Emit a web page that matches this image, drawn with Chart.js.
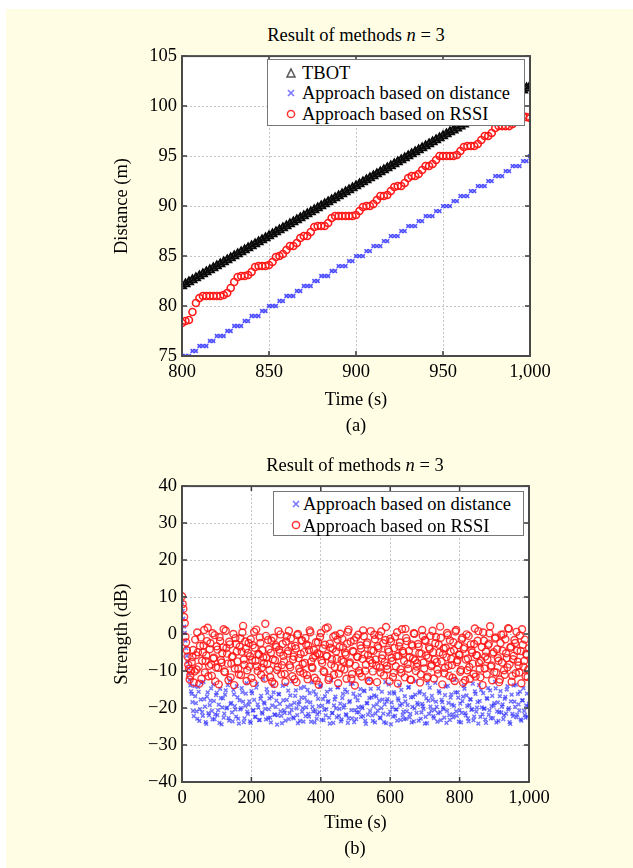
<!DOCTYPE html>
<html>
<head>
<meta charset="utf-8">
<script src="https://cdn.jsdelivr.net/npm/chart.js@4.4.0/dist/chart.umd.min.js"></script>
<style>
  html, body { margin: 0; padding: 0; }
  body { width: 633px; height: 868px; position: relative; overflow: hidden; background: #ffffff;
         font-family: "Liberation Serif", "Times New Roman", serif; color: #000; }
  #panel { position: absolute; left: 6px; top: 9px; right: 0; bottom: 0; background: #fffee5; }
  .txt { position: absolute; font-size: 18.5px; line-height: 22px; height: 22px; text-align: center; white-space: nowrap; }
  .wrap { position: absolute; }
  .legend { position: absolute; background: #fff; border: 1.5px solid #777; box-sizing: border-box; }
  .legend .row { position: absolute; font-size: 18.5px; line-height: 22px; height: 22px; white-space: nowrap; }
  .legend svg { position: absolute; }
</style>
</head>
<body>
<div id="panel"></div>

<div class="txt" style="left:206px; width:300px; top:24px;">Result of methods <i>n</i> = 3</div>
<div class="wrap" style="left:90px; top:40px; width:470px; height:400px;"><canvas id="chartA" width="470" height="400"></canvas></div>
<div class="txt" style="left:306px; width:100px; top:414px;">(a)</div>

<div class="legend" style="left:267px; top:59px; width:258px; height:67px;">
  <svg width="12" height="12" style="left:17px; top:7px;"><polygon points="6,2 10,10 2,10" fill="none" stroke="#555" stroke-width="1.5"/></svg>
  <span class="row" style="left:34px; top:2px;">TBOT</span>
  <svg width="10" height="10" style="left:18px; top:28px;"><path d="M2,2L8,8M8,2L2,8" stroke="#7777ff" stroke-width="1.6"/></svg>
  <span class="row" style="left:34px; top:22px;">Approach based on distance</span>
  <svg width="12" height="12" style="left:17px; top:48px;"><circle cx="6" cy="6" r="3.6" fill="none" stroke="#ff3333" stroke-width="1.5"/></svg>
  <span class="row" style="left:34px; top:43px;">Approach based on RSSI</span>
</div>

<div class="txt" style="left:205px; width:300px; top:454px;">Result of methods <i>n</i> = 3</div>
<div class="wrap" style="left:90px; top:470px; width:470px; height:390px;"><canvas id="chartB" width="470" height="390"></canvas></div>
<div class="txt" style="left:305px; width:100px; top:837px;">(b)</div>

<div class="legend" style="left:273px; top:491px; width:251px; height:45px;">
  <svg width="10" height="10" style="left:17px; top:7px;"><path d="M2,2L8,8M8,2L2,8" stroke="#7777ff" stroke-width="1.6"/></svg>
  <span class="row" style="left:29px; top:1px;">Approach based on distance</span>
  <svg width="12" height="12" style="left:16px; top:27px;"><circle cx="6" cy="6" r="3.6" fill="none" stroke="#ff3333" stroke-width="1.5"/></svg>
  <span class="row" style="left:29px; top:23px;">Approach based on RSSI</span>
</div>

<script>
// ---------------- Data: chart (a) ----------------
const timeA = []; for (let t = 800; t <= 1000; t += 2) timeA.push(t);   // sampling grid, s
const xTicksA = [800, 850, 900, 950, 1000];
const yTicksA = [75, 80, 85, 90, 95, 100, 105];

const tbotA = [
  82.0, 82.2, 82.4, 82.6, 82.8, 83.0, 83.2, 83.4, 83.6, 83.8,
  84.0, 84.2, 84.4, 84.6, 84.8, 85.0, 85.2, 85.4, 85.6, 85.8,
  86.0, 86.2, 86.4, 86.6, 86.8, 87.0, 87.2, 87.4, 87.6, 87.8,
  88.0, 88.2, 88.4, 88.6, 88.8, 89.0, 89.2, 89.4, 89.6, 89.8,
  90.0, 90.2, 90.4, 90.6, 90.8, 91.0, 91.2, 91.4, 91.6, 91.8,
  92.0, 92.2, 92.4, 92.6, 92.8, 93.0, 93.2, 93.4, 93.6, 93.8,
  94.0, 94.2, 94.4, 94.6, 94.8, 95.0, 95.2, 95.4, 95.6, 95.8,
  96.0, 96.2, 96.4, 96.6, 96.8, 97.0, 97.2, 97.4, 97.6, 97.8,
  98.0, 98.2, 98.4, 98.6, 98.8, 99.0, 99.2, 99.4, 99.6, 99.8,
  100.0, 100.2, 100.4, 100.6, 100.8, 101.0, 101.2, 101.4, 101.6, 101.8,
  102.0
];
const distanceA = [
  75.0, 75.0, 75.0, 75.5, 75.5, 76.0, 76.0, 76.0, 76.5, 76.5,
  77.0, 77.0, 77.0, 77.5, 77.5, 78.0, 78.0, 78.0, 78.5, 78.5,
  79.0, 79.0, 79.0, 79.5, 79.5, 80.0, 80.0, 80.0, 80.5, 80.5,
  81.0, 81.0, 81.0, 81.5, 81.5, 82.0, 82.0, 82.0, 82.5, 82.5,
  83.0, 83.0, 83.0, 83.5, 83.5, 84.0, 84.0, 84.0, 84.5, 84.5,
  85.0, 85.0, 85.0, 85.5, 85.5, 86.0, 86.0, 86.0, 86.5, 86.5,
  87.0, 87.0, 87.0, 87.5, 87.5, 88.0, 88.0, 88.0, 88.5, 88.5,
  89.0, 89.0, 89.0, 89.5, 89.5, 90.0, 90.0, 90.0, 90.5, 90.5,
  91.0, 91.0, 91.0, 91.5, 91.5, 92.0, 92.0, 92.0, 92.5, 92.5,
  93.0, 93.0, 93.0, 93.5, 93.5, 94.0, 94.0, 94.0, 94.5, 94.5,
  95.0
];
const rssiA = [
  78.3, 78.5, 78.6, 79.4, 80.3, 80.8, 81.0, 81.0, 81.0, 81.0,
  81.0, 81.0, 81.1, 81.3, 81.8, 82.4, 82.9, 83.0, 83.0, 83.1,
  83.4, 83.9, 84.0, 84.0, 84.0, 84.1, 84.4, 84.9, 85.0, 85.2,
  85.6, 86.0, 86.0, 86.3, 86.8, 87.0, 87.0, 87.4, 87.9, 88.0,
  88.0, 88.0, 88.3, 88.8, 89.0, 89.0, 89.0, 89.0, 89.0, 89.0,
  89.1, 89.5, 89.9, 90.0, 90.0, 90.2, 90.6, 91.0, 91.0, 91.1,
  91.5, 91.9, 92.0, 92.0, 92.3, 92.8, 93.0, 93.0, 93.2, 93.6,
  94.0, 94.0, 94.2, 94.6, 95.0, 95.0, 95.0, 95.0, 95.0, 95.1,
  95.5, 95.9, 96.0, 96.0, 96.0, 96.2, 96.6, 97.0, 97.0, 97.3,
  97.8, 98.0, 98.0, 98.0, 98.0, 98.2, 98.6, 99.0, 99.0, 98.9,
  98.8
];

// ---------------- Data: chart (b) ----------------
const timeB = []; for (let t = 0; t <= 1000; t += 4) timeB.push(t);    // sampling grid, s
const timeB2 = []; for (let t = 2; t < 1000; t += 4) timeB2.push(t);   // interleaved grid, s
const xTicksB = [0, 200, 400, 600, 800, 1000];
const yTicksB = [-40, -30, -20, -10, 0, 10, 20, 30, 40];

const distanceB = [
  8.5, 4.2, 0.3, -3.8, -7.5, -10.6, -13.9, -16.2, -20.8, -14.1,
  -18.7, -22.9, -15.6, -20.3, -13.2, -22.1, -17.6, -23.8, -16.9, -21.4,
  -19.2, -14.7, -23.1, -18.1, -21.7, -15.9, -20.6, -24.0, -17.3, -19.8,
  -22.6, -16.4, -20.1, -13.8, -23.4, -18.9, -21.2, -15.1, -19.5, -22.3,
  -17.1, -24.2, -20.4, -14.6, -18.3, -22.8, -16.1, -21.0, -19.1, -23.6,
  -15.4, -20.7, -17.8, -22.4, -13.5, -19.9, -23.2, -16.7, -21.5, -18.5,
  -20.2, -14.9, -22.7, -17.4, -23.9, -19.3, -15.8, -21.8, -18.0, -22.0,
  -16.3, -20.9, -24.1, -17.9, -21.3, -13.7, -19.6, -23.0, -16.6, -20.5,
  -22.5, -18.6, -15.2, -21.9, -19.0, -23.5, -17.2, -20.0, -14.3, -22.2,
  -18.2, -21.6, -16.0, -23.7, -19.7, -15.5, -20.8, -22.9, -17.5, -21.1,
  -13.9, -19.4, -23.3, -16.8, -20.3, -18.4, -22.6, -15.0, -21.4, -24.0,
  -17.7, -20.1, -14.4, -22.1, -18.8, -23.1, -16.2, -19.2, -21.7, -15.7,
  -22.8, -18.1, -20.6, -13.4, -23.8, -17.0, -21.2, -19.8, -16.5, -22.4,
  -20.0, -15.3, -23.5, -18.7, -21.8, -17.3, -14.8, -22.0, -19.5, -23.9,
  -16.9, -20.7, -18.0, -22.7, -15.6, -21.5, -19.0, -24.1, -17.6, -13.6,
  -21.0, -18.5, -22.3, -16.1, -20.4, -23.4, -17.9, -19.3, -15.1, -21.9,
  -23.0, -18.2, -20.9, -14.5, -22.5, -17.1, -19.7, -23.6, -16.4, -21.3,
  -19.1, -15.9, -22.9, -18.9, -20.2, -24.2, -17.4, -13.3, -21.6, -19.6,
  -16.7, -22.2, -20.5, -18.3, -23.7, -15.4, -21.1, -17.8, -19.9, -22.6,
  -14.2, -20.8, -18.6, -23.2, -16.3, -21.7, -19.4, -15.8, -22.1, -17.2,
  -20.6, -23.9, -18.1, -14.0, -21.4, -16.6, -22.8, -19.2, -17.7, -20.3,
  -23.3, -15.5, -21.0, -18.4, -13.8, -22.4, -19.8, -16.0, -20.1, -24.0,
  -17.5, -21.8, -15.2, -19.5, -22.7, -18.7, -14.7, -20.9, -23.5, -16.8,
  -21.2, -19.0, -22.0, -17.0, -15.0, -20.4, -23.8, -18.2, -21.6, -13.9,
  -19.7, -22.5, -16.2, -20.7, -23.1, -17.9, -14.6, -21.9, -19.3, -22.3, -18.8
];
const distanceB2 = [
  6.2, 2.0, -1.8, -5.9, -9.2, -12.4, -15.5, -18.4, -22.2, -16.8,
  -20.9, -14.3, -23.5, -17.7, -21.1, -12.9, -19.6, -24.3, -15.8, -22.0,
  -18.0, -20.8, -13.6, -23.0, -16.5, -21.9, -19.1, -14.8, -24.4, -17.4,
  -21.5, -15.2, -19.9, -22.7, -12.6, -18.6, -23.6, -16.3, -20.4, -14.1,
  -22.9, -17.9, -20.0, -15.7, -23.8, -19.4, -13.3, -21.6, -18.2, -24.0,
  -16.0, -20.6, -22.4, -14.5, -19.0, -23.3, -17.5, -21.2, -12.2, -18.8,
  -23.1, -15.9, -20.3, -22.6, -17.0, -13.9, -21.8, -19.7, -24.5, -16.2,
  -18.9, -22.1, -14.0, -20.7, -23.4, -17.8, -15.3, -21.4, -19.2, -12.8,
  -22.8, -16.7, -20.1, -24.1, -18.3, -14.6, -21.0, -23.7, -17.2, -19.8,
  -15.1, -22.3, -18.5, -13.1, -20.9, -23.9, -16.4, -21.7, -19.5, -14.2,
  -23.2, -17.6, -20.5, -22.0, -15.6, -18.1, -24.2, -12.5, -21.3, -19.3,
  -16.9, -22.5, -14.4, -20.2, -23.6, -17.3, -19.9, -15.0, -21.9, -24.0,
  -18.4, -13.5, -22.8, -16.1, -20.6, -23.0, -17.9, -21.1, -14.9, -19.6,
  -22.2, -15.4, -24.3, -18.7, -12.3, -20.8, -17.1, -23.5, -16.6, -21.5,
  -19.0, -14.7, -22.6, -20.0, -17.7, -23.8, -13.0, -18.2, -21.8, -16.0,
  -24.4, -19.8, -15.7, -22.1, -20.4, -17.4, -13.8, -23.2, -18.9, -21.0,
  -16.8, -22.9, -19.2, -14.3, -21.6, -23.9, -17.0, -20.1, -12.7, -18.6,
  -23.4, -15.5, -21.2, -19.5, -16.3, -22.4, -24.1, -18.0, -14.5, -20.7,
  -17.8, -22.7, -13.2, -19.7, -21.4, -15.9, -23.3, -18.4, -20.3, -16.5,
  -24.0, -14.0, -21.9, -17.2, -19.1, -22.5, -12.4, -20.9, -15.8, -23.7,
  -18.8, -21.3, -16.9, -14.8, -22.0, -19.4, -23.6, -17.6, -20.5, -13.4,
  -22.3, -16.2, -19.9, -24.2, -18.1, -15.1, -21.7, -20.2, -23.1, -17.3,
  -14.6, -20.6, -22.8, -16.7, -19.3, -12.9, -23.9, -18.5, -21.1, -15.4,
  -19.6, -23.0, -17.5, -21.5, -14.1, -20.0, -24.3, -16.4, -22.2, -18.3,
  -13.7, -21.8, -19.0, -15.6, -23.4, -17.9, -20.8, -22.6, -16.1, -19.7
];
const rssiB = [
  10.2, 6.8, 2.9, -2.3, -6.1, -9.4, -11.2, -7.6, -4.3, -10.1,
  -5.7, 0.4, -8.8, -3.2, -12.1, -5.0, 1.1, -7.3, -1.9, -11.4,
  -4.1, -8.2, 0.2, -6.4, -12.8, -3.3, -9.1, -0.8, -7.0, -5.2,
  1.3, -10.3, -3.8, -8.0, -2.1, -11.7, -6.2, 0.0, -9.3, -2.7,
  -7.4, -10.9, -1.2, -4.8, 2.2, -8.3, -4.0, -9.8, -2.4, -6.0,
  -11.9, -3.0, 0.6, -7.2, -8.7, -5.4, -0.9, -11.0, -4.4, -7.9,
  2.8, -6.3, -1.6, -9.7, -5.1, -12.9, -1.0, -7.1, -3.5, -8.9,
  -4.2, -0.1, -8.4, -5.9, -10.8, -2.0, -5.3, 0.9, -9.0, -3.4,
  -6.9, -12.2, -3.9, -0.3, -6.5, -10.2, -1.8, -8.1, -4.9, -1.1,
  -11.1, -3.1, 1.0, -7.5, -9.2, -4.3, -5.8, -12.6, -2.2, -5.5,
  0.3, -7.8, -10.0, -2.9, -6.0, 1.8, -11.8, -3.7, -6.8, -0.7,
  -8.9, -4.7, -1.5, -10.7, 0.1, -7.0, -3.6, -9.6, -5.6, -2.6,
  1.2, -7.7, -12.0, -4.6, -1.7, -8.6, -6.1, -0.2, -10.6, -3.9,
  -6.7, -0.6, -9.9, -2.8, -5.7, -12.7, 0.8, -7.9, -4.5, -1.4,
  -8.5, -3.3, -0.4, -10.4, -6.6, -2.5, -7.6, 1.9, -9.5, -4.8,
  -1.3, -6.4, -11.6, -3.8, -8.7, 0.5, -5.9, -2.3, -10.5, -4.6,
  -7.3, 1.4, -1.9, -9.4, -6.2, -12.4, -3.2, 0.2, -7.1, -8.8,
  -2.7, -5.2, -10.9, 1.1, -7.7, -1.6, -5.8, -11.5, -3.6, -0.5,
  -8.3, -4.9, -6.9, -0.8, -9.6, -2.9, 2.0, -7.4, -5.5, -10.6,
  -3.7, 0.3, -8.6, -1.7, -6.7, -11.8, -4.4, 0.7, -7.6, -3.0,
  -5.6, -9.7, -1.0, -4.0, -12.5, -0.1, -6.6, -8.9, -2.8, -5.0,
  -10.8, 1.5, -5.7, -1.8, -7.8, -11.7, -3.5, 0.4, -9.3, -4.7,
  -6.8, -2.6, 2.1, -8.5, -5.3, -10.3, -0.9, -4.1, -7.2, -12.3,
  -0.2, -4.5, -9.8, -1.4, -6.5, 1.6, -8.2, -3.4, -11.3, -5.9,
  -2.4, 0.6, -7.5, -10.4, -4.6, 1.3, -8.8, -1.5, -5.4, -11.6, -3.8
];
const rssiB2 = [
  8.1, 4.6, -0.7, -4.4, -8.3, -12.3, -9.9, -6.2, -13.1, -1.5,
  -9.6, -4.9, -13.4, -0.9, -7.2, -3.1, -10.4, -5.8, 1.7, -8.6,
  -2.5, -11.3, -6.6, -0.3, -9.0, -4.2, -13.6, -1.9, -7.7, -3.6,
  -10.1, 0.9, -5.3, -12.5, -2.8, -8.0, -6.0, -13.8, -1.1, -4.7,
  -9.4, -3.4, -11.1, 0.4, -6.9, -2.0, -12.7, -5.1, -8.8, -1.4,
  -7.0, -13.2, -3.7, 1.2, -10.0, -5.6, -2.4, -9.1, -6.3, -12.0,
  -0.5, -8.1, -4.1, -11.6, -1.8, -6.8, -13.5, -3.0, -9.7, 0.8,
  -5.0, -10.9, -2.7, -7.4, -12.9, -0.6, -4.6, -8.4, -1.2, -11.4,
  -6.1, -3.2, -13.0, 0.0, -9.3, -5.4, -1.7, -10.6, -7.8, -2.9,
  -12.2, -4.3, 0.5, -8.9, -6.4, -11.8, -2.2, -5.2, -13.7, -0.8,
  -7.1, -3.9, -10.3, 1.5, -5.9, -12.4, -2.6, -8.2, -4.0, -11.0,
  -0.4, -6.7, -13.3, -3.5, -9.2, -1.3, -7.5, -5.0, -12.1, 0.6,
  -8.0, -2.1, -10.8, -4.8, -13.9, -0.9, -6.2, -9.9, -3.1, -11.5,
  1.0, -5.5, -8.3, -2.3, -12.6, -7.0, -4.4, -10.1, -0.2, -6.9,
  -13.0, -3.8, -9.0, 0.7, -5.7, -11.2, -1.6, -8.6, -4.2, -12.8,
  -2.0, -7.3, -10.5, -0.7, -6.0, -13.4, -3.3, -9.5, 1.3, -5.1,
  -11.7, -1.1, -8.1, -4.6, -12.3, -2.8, -6.6, 0.1, -10.0, -7.9,
  -3.4, -13.1, -5.3, -0.6, -9.3, -1.9, -11.9, -6.4, -4.0, -8.7,
  0.9, -12.0, -2.5, -7.6, -10.7, -5.0, -1.0, -13.6, -3.9, -9.1,
  -6.3, -0.3, -11.3, -4.7, -8.4, -2.2, -12.7, 1.1, -7.0, -5.6,
  -10.2, -1.5, -13.2, -3.6, -6.9, -9.8, -0.5, -12.1, -4.3, -8.0,
  -2.7, -11.5, -5.8, 0.8, -9.4, -7.2, -13.8, -1.8, -6.1, -10.9,
  -3.0, 0.2, -8.8, -12.5, -4.9, -1.2, -10.4, -6.5, -13.0, -2.4,
  -7.7, -0.1, -11.0, -5.2, -9.0, 1.4, -3.7, -12.9, -6.8, -1.6,
  -10.6, -4.5, -8.5, -0.4, -13.3, -2.9, -7.3, -11.4, -5.7, -9.6
];

// ---------------- Helpers ----------------
const FONT = { family: '"Liberation Serif", "Times New Roman", serif', size: 18.5, lineHeight: 1.2 };
const pts = (xs, ys) => xs.map((x, i) => ({ x: x, y: ys[i] }));
const fmt = v => (v < 0 ? '\u2212' + Math.abs(v).toLocaleString('en-US') : v.toLocaleString('en-US'));

const framePlugin = {
  id: 'frame',
  beforeDraw(chart) {
    const a = chart.chartArea, ctx = chart.ctx;
    ctx.save(); ctx.fillStyle = '#ffffff';
    ctx.fillRect(a.left, a.top, a.right - a.left, a.bottom - a.top);
    ctx.restore();
  },
  afterDraw(chart) {
    const a = chart.chartArea, ctx = chart.ctx;
    const xs = chart.scales.x, ys = chart.scales.y;
    ctx.save();
    ctx.strokeStyle = '#3a3a3a'; ctx.lineWidth = 1.5;
    const L = 5;
    xs.ticks.forEach(t => {
      const p = xs.getPixelForValue(t.value);
      ctx.beginPath(); ctx.moveTo(p, a.bottom); ctx.lineTo(p, a.bottom - L);
      ctx.moveTo(p, a.top); ctx.lineTo(p, a.top + L); ctx.stroke();
    });
    ys.ticks.forEach(t => {
      const p = ys.getPixelForValue(t.value);
      ctx.beginPath(); ctx.moveTo(a.left, p); ctx.lineTo(a.left + L, p);
      ctx.moveTo(a.right, p); ctx.lineTo(a.right - L, p); ctx.stroke();
    });
    ctx.strokeStyle = '#4a4a4a'; ctx.lineWidth = 2;
    ctx.strokeRect(a.left, a.top, a.right - a.left, a.bottom - a.top);
    ctx.restore();
  }
};

function makeScales(xMin, xMax, xTicks, yMin, yMax, yTicks, yTitle, xH) {
  const grid = { color: '#c4c4c4', lineWidth: 1, drawTicks: false };
  const border = { display: false, dash: [2, 2] };
  return {
    x: {
      type: 'linear', min: xMin, max: xMax,
      grid: grid, border: border,
      afterBuildTicks: s => { s.ticks = xTicks.map(v => ({ value: v })); },
      afterFit: s => { s.height = xH; },
      ticks: { font: FONT, color: '#000', padding: 5, autoSkip: false, maxRotation: 0, callback: v => fmt(v) },
      title: { display: true, text: 'Time (s)', font: FONT, color: '#000', padding: { top: 0, bottom: 0 } }
    },
    y: {
      type: 'linear', min: yMin, max: yMax,
      grid: grid, border: border,
      afterBuildTicks: s => { s.ticks = yTicks.map(v => ({ value: v })); },
      afterFit: s => { s.width = 92; },
      ticks: { font: FONT, color: '#000', padding: 5, autoSkip: false, callback: v => fmt(v) },
      title: { display: true, text: yTitle, font: FONT, color: '#000', padding: { top: 21, bottom: 0 } }
    }
  };
}

const common = {
  responsive: false, animation: false, events: [],
  plugins: { legend: { display: false }, tooltip: { enabled: false }, title: { display: false } }
};

new Chart(document.getElementById('chartA'), {
  type: 'scatter',
  data: {
    datasets: [
      { label: 'TBOT', data: pts(timeA, tbotA), pointStyle: 'triangle', pointRadius: 4.6,
        borderColor: '#0a0a0a', backgroundColor: 'rgba(0,0,0,0)', pointBorderWidth: 2, order: 0 },
      { label: 'Approach based on distance', data: pts(timeA, distanceA), pointStyle: 'crossRot', pointRadius: 2.6,
        borderColor: 'rgba(50,50,255,0.85)', backgroundColor: 'rgba(0,0,0,0)', pointBorderWidth: 1.6, order: 1 },
      { label: 'Approach based on RSSI', data: pts(timeA, rssiA), pointStyle: 'circle', pointRadius: 3.5,
        borderColor: '#ff1a1a', backgroundColor: 'rgba(0,0,0,0)', pointBorderWidth: 1.6, order: 2 }
    ]
  },
  options: Object.assign({}, common, {
    layout: { padding: { left: 0, right: 30, top: 13, bottom: 29 } },
    scales: makeScales(800, 1000, xTicksA, 75, 105, yTicksA, 'Distance (m)', 55)
  }),
  plugins: [framePlugin]
});

new Chart(document.getElementById('chartB'), {
  type: 'scatter',
  data: {
    datasets: [
      { label: 'Approach based on distance', data: pts(timeB, distanceB).concat(pts(timeB2, distanceB2)),
        pointStyle: 'crossRot', pointRadius: 2.6,
        borderColor: 'rgba(40,40,255,0.65)', backgroundColor: 'rgba(0,0,0,0)', pointBorderWidth: 1.5, order: 1 },
      { label: 'Approach based on RSSI', data: pts(timeB, rssiB).concat(pts(timeB2, rssiB2)),
        pointStyle: 'circle', pointRadius: 3.5,
        borderColor: 'rgba(255,20,20,0.85)', backgroundColor: 'rgba(0,0,0,0)', pointBorderWidth: 1.4, order: 0 }
    ]
  },
  options: Object.assign({}, common, {
    layout: { padding: { left: 0, right: 31, top: 15, bottom: 26 } },
    scales: makeScales(0, 1000, xTicksB, -40, 40, yTicksB, 'Strength (dB)', 52)
  }),
  plugins: [framePlugin]
});
</script>
</body>
</html>
